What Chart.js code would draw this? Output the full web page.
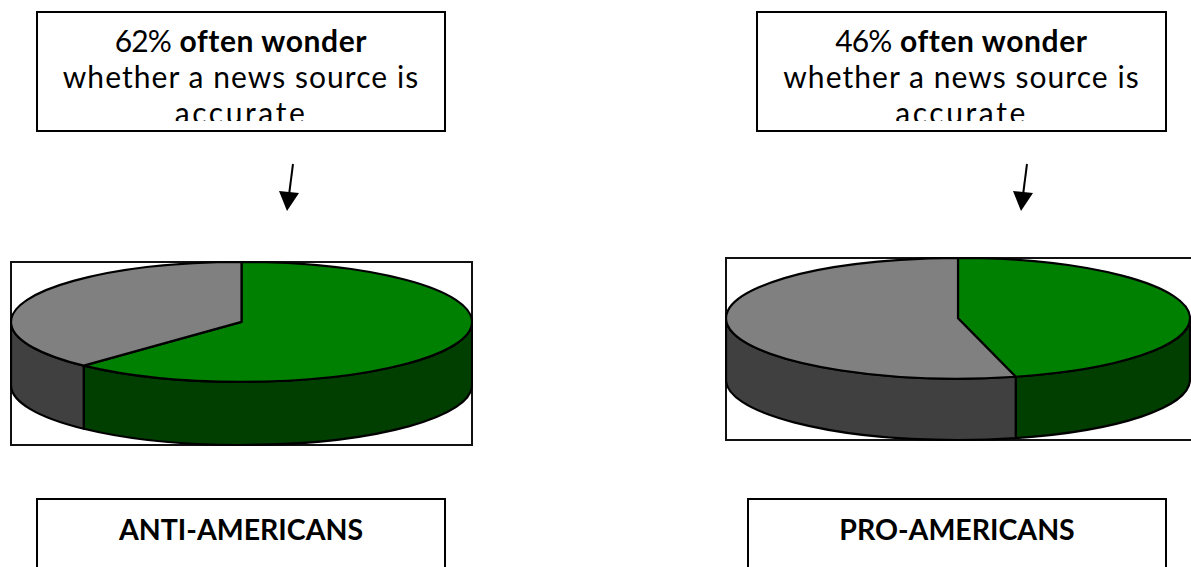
<!DOCTYPE html>
<html lang="en">
<head>
  <meta charset="UTF-8">
  <title>Often wonder whether a news source is accurate</title>
  <script src="https://cdn.jsdelivr.net/npm/chart.js"></script>
  <style>
    html, body {
      margin: 0;
      background: #fff;
    }
    body {
      position: relative;
      width: 1191px;
      height: 567px;
      overflow: hidden;
      font-family: Lato, sans-serif;
      color: #000;
    }
    .box {
      position: absolute;
      box-sizing: border-box;
      border: 2px solid #000;
      background: #fff;
      text-align: center;
    }
    .question {
      height: 121px;
      top: 11px;
      font-size: 30px;
      line-height: 36px;
      letter-spacing: 1.05px;
    }
    .question b {
      letter-spacing: 0.6px;
    }
    .question .pct {
      letter-spacing: -1px;
    }
    .question .last {
      letter-spacing: 2.6px;
    }
    .question div {
      height: 108px;
      padding-top: 9px;
      box-sizing: border-box;
      overflow: hidden;
    }
    .group {
      top: 498px;
      height: 90px;
      font-size: 28.5px;
      font-weight: bold;
      line-height: 58px;
    }
    canvas {
      position: absolute;
    }
    .frame {
      position: absolute;
      box-sizing: border-box;
      border: 2px solid #111;
    }
    svg {
      position: absolute;
      left: 0;
      top: 0;
    }
  </style>
</head>
<body>

<div class="box question" id="questionAnti" style="left:36px;width:410px"><div></div></div>
<div class="box question" id="questionPro" style="left:756px;width:411px"><div></div></div>

<svg width="1191" height="567">
  <g stroke="#000" stroke-width="2" fill="#000">
    <line x1="293" y1="164" x2="289" y2="195"/>
    <polygon points="279,191 299,193 287,211" stroke="none"/>
    <line x1="1027" y1="164" x2="1023" y2="195"/>
    <polygon points="1013,191 1033,193 1021,211" stroke="none"/>
  </g>
</svg>

<div class="frame" style="left:10px;top:261px;width:463px;height:185px"></div>
<canvas id="pieAnti" width="463" height="185" style="left:10px;top:261px"></canvas>

<div class="frame" style="left:725px;top:257px;width:470px;height:184px"></div>
<canvas id="piePro" width="466" height="184" style="left:725px;top:257px"></canvas>

<div class="box group" id="groupAnti" style="left:36px;width:410px"></div>
<div class="box group" id="groupPro" style="left:747px;width:420px"></div>

<script>
  const answers = ["Often wonder", "Do not often wonder"];
  const antiValues = [62, 38];
  const proValues = [46, 54];
  const groupNames = ["ANTI-AMERICANS", "PRO-AMERICANS"];
  const questionBold = "often wonder";
  const questionMiddle = "whether a news source is";
  const questionLast = "accurate";

  const topColors = ["#008000", "#808080"];
  const sideColors = ["#003f00", "#404040"];

  // Flat ellipse with a side wall, using the angles the pie controller worked out
  const tiltedPie = {
    id: "tiltedPie",
    beforeDatasetDraw(chart, args) {
      const ctx = chart.ctx;
      const area = chart.chartArea;
      const arcs = args.meta.data;
      const rx = area.width / 2 - 1;
      const ry = rx * 0.26;
      const depth = area.height - 2 * ry - 2;
      const cx = area.left + area.width / 2;
      const cy = area.top + 1 + ry;

      ctx.save();
      ctx.lineJoin = "round";
      ctx.strokeStyle = "#000";
      ctx.lineWidth = 2.2;

      // side wall only shows on the front half of the ellipse
      arcs.forEach((arc, i) => {
        const norm = a => ((a % (2 * Math.PI)) + 2 * Math.PI) % (2 * Math.PI);
        const s = norm(arc.startAngle);
        const span = arc.endAngle - arc.startAngle;
        const ranges = [[s, s + span], [s - 2 * Math.PI, s - 2 * Math.PI + span]];
        ranges.forEach(([a, b]) => {
          const from = Math.max(a, 0);
          const to = Math.min(b, Math.PI);
          if (to <= from) return;
          ctx.beginPath();
          ctx.ellipse(cx, cy, rx, ry, 0, from, to);
          ctx.lineTo(cx + rx * Math.cos(to), cy + ry * Math.sin(to) + depth);
          ctx.ellipse(cx, cy + depth, rx, ry, 0, to, from, true);
          ctx.closePath();
          ctx.fillStyle = sideColors[i];
          ctx.fill();
          ctx.stroke();
        });
      });

      // top face
      arcs.forEach((arc, i) => {
        ctx.beginPath();
        ctx.moveTo(cx, cy);
        ctx.ellipse(cx, cy, rx, ry, 0, arc.startAngle, arc.endAngle);
        ctx.closePath();
        ctx.fillStyle = arc.options.backgroundColor;
        ctx.fill();
        ctx.stroke();
      });

      ctx.restore();
      return false;
    }
  };

  function drawPie(id, values) {
    new Chart(document.getElementById(id), {
      type: "pie",
      data: {
        labels: answers,
        datasets: [{ data: values, backgroundColor: topColors, borderColor: "#000" }]
      },
      options: {
        responsive: false,
        animation: false,
        layout: { padding: 0 },
        plugins: {
          legend: { display: false },
          tooltip: { enabled: false }
        }
      },
      plugins: [tiltedPie]
    });
  }

  function fillQuestion(id, value) {
    const box = document.querySelector("#" + id + " div");
    box.innerHTML = `<span class="pct">${value}%</span> <b>${questionBold}</b><br>${questionMiddle}<br><span class="last">${questionLast}</span>`;
  }

  fillQuestion("questionAnti", antiValues[0]);
  fillQuestion("questionPro", proValues[0]);
  document.getElementById("groupAnti").textContent = groupNames[0];
  document.getElementById("groupPro").textContent = groupNames[1];

  drawPie("pieAnti", antiValues);
  drawPie("piePro", proValues);
</script>

</body>
</html>
